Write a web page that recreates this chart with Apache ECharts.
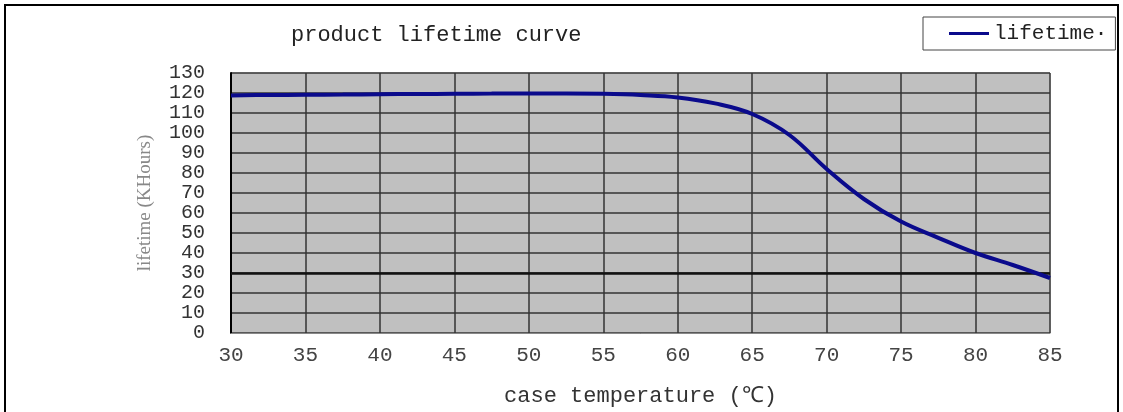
<!DOCTYPE html>
<html>
<head>
<meta charset="utf-8">
<script src="https://cdn.jsdelivr.net/npm/echarts@6/dist/echarts.min.js"></script>
<style>
html,body{margin:0;padding:0;background:#fff;}
#chart{width:1123px;height:412px;}
</style>
</head>
<body>
<div id="chart"></div>
<script>
var temperatures = [30, 32.5, 35, 37.5, 40, 42.5, 45, 47.5, 50, 52.5, 55, 57.5, 60, 62.5, 65, 67.5, 70, 72.5, 75, 77.5, 80, 82.5, 85];
var lifetimes = [118.8, 119, 119.1, 119.2, 119.4, 119.5, 119.6, 119.7, 119.8, 119.8, 119.6, 119, 117.8, 114.8, 109.5, 99, 82, 67, 55.7, 47.6, 40, 34, 27.5];
var yTicks = { min: 0, max: 130, interval: 10 };
var xTicks = { min: 30, max: 85, interval: 5 };
var titleText = 'product lifetime curve';
var xName = 'case temperature (\u2103)';
var yName = 'lifetime (KHours)';
var seriesName = 'lifetime';

var data = temperatures.map(function (t, i) { return [t, lifetimes[i]]; });
var mono = '"Liberation Mono", "DejaVu Sans Mono", monospace';

var chart = echarts.init(document.getElementById('chart'));
chart.setOption({
  animation: false,
  backgroundColor: '#fff',
  title: {
    text: titleText,
    left: 286, top: 19,
    textStyle: { fontFamily: mono, fontSize: 22, fontWeight: 'normal', color: '#222' }
  },
  legend: {
    left: 923, top: 17,
    padding: [6, 8, 6, 26],
    itemWidth: 40, itemHeight: 3, itemGap: 14,
    icon: 'rect',
    borderColor: '#444', borderWidth: 1,
    backgroundColor: '#fff',
    formatter: function (n) { return n + '\u00b7'; },
    textStyle: { fontFamily: mono, fontSize: 21, color: '#222' },
    data: [seriesName]
  },
  graphic: [
    { type: 'rect', shape: { x: 5, y: 5, width: 1113, height: 420 }, style: { fill: 'none', stroke: '#000', lineWidth: 2 }, silent: true, z: -1 }
  ],
  grid: {
    left: 231, right: 73, top: 73, bottom: 79,
    show: true, backgroundColor: '#c0c0c0', borderColor: '#ccc', borderWidth: 1
  },
  xAxis: {
    type: 'value', min: xTicks.min, max: xTicks.max, interval: xTicks.interval,
    name: xName, nameLocation: 'middle', nameGap: 52,
    nameTextStyle: { fontFamily: mono, fontSize: 22, color: '#333' },
    axisLine: { show: true, lineStyle: { color: '#888', width: 1 } },
    axisTick: { show: false },
    axisLabel: { fontFamily: mono, fontSize: 21, color: '#444', margin: 12, showMinLabel: true, showMaxLabel: true },
    splitLine: { show: true, lineStyle: { color: '#333', width: 1.5 } }
  },
  yAxis: {
    type: 'value', min: yTicks.min, max: yTicks.max, interval: yTicks.interval,
    name: yName, nameLocation: 'middle', nameGap: 76, nameRotate: 90,
    nameTextStyle: { fontFamily: '"Liberation Serif", serif', fontSize: 19, color: '#888' },
    axisLine: { show: true, lineStyle: { color: '#000', width: 2 } },
    axisTick: { show: false },
    axisLabel: { fontFamily: mono, fontSize: 20, color: '#333', margin: 26 },
    splitLine: { show: true, lineStyle: { color: '#333', width: 1.5 } }
  },
  series: [{
    name: seriesName,
    type: 'line',
    data: data,
    smooth: 0.4,
    showSymbol: false,
    lineStyle: { color: '#0a0a8c', width: 4 },
    itemStyle: { color: '#0a0a8c' },
    markLine: {
      silent: true, symbol: 'none', label: { show: false },
      lineStyle: { color: '#111', width: 2.5, type: 'solid' },
      data: [{ yAxis: 30 }]
    },
    z: 5
  }]
});
</script>
</body>
</html>
